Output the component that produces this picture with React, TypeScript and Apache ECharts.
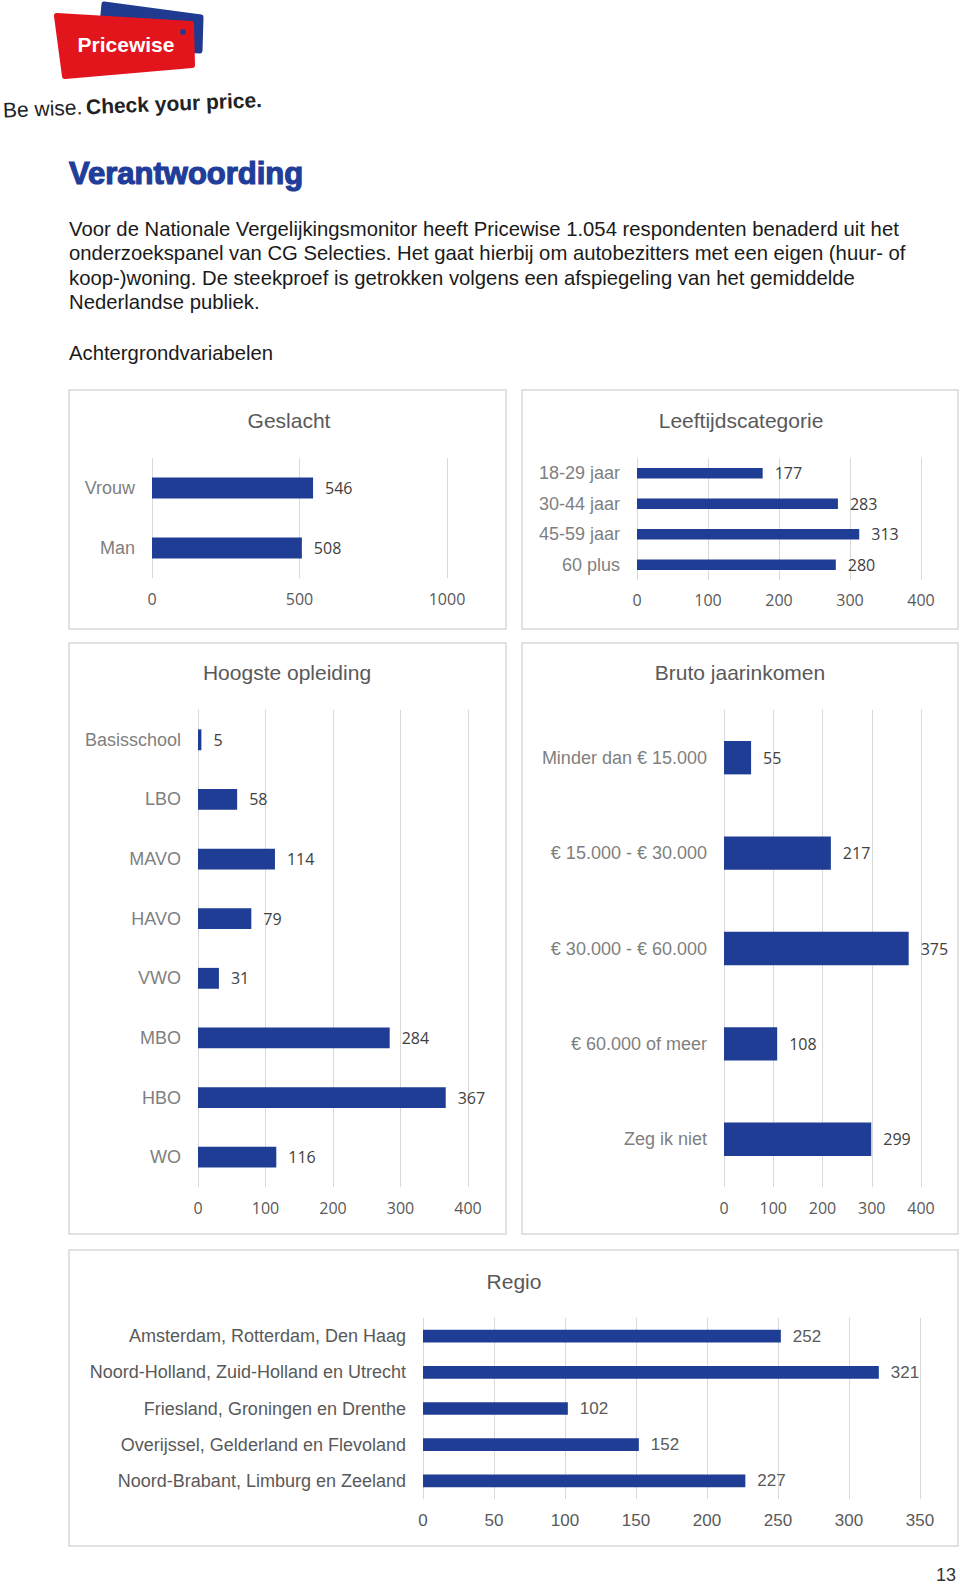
import React, { useEffect, useRef } from 'react';
import * as echarts from 'echarts';

// ---- Data ----
const genderCategories = ['Vrouw', 'Man'];
const genderValues = [546, 508];

const ageCategories = ['18-29 jaar', '30-44 jaar', '45-59 jaar', '60 plus'];
const ageValues = [177, 283, 313, 280];

const educationCategories = ['Basisschool', 'LBO', 'MAVO', 'HAVO', 'VWO', 'MBO', 'HBO', 'WO'];
const educationValues = [5, 58, 114, 79, 31, 284, 367, 116];

const incomeCategories = ['Minder dan € 15.000', '€ 15.000 - € 30.000', '€ 30.000 - € 60.000', '€ 60.000 of meer', 'Zeg ik niet'];
const incomeValues = [55, 217, 375, 108, 299];

const regionCategories = [
  'Amsterdam, Rotterdam, Den Haag',
  'Noord-Holland, Zuid-Holland en Utrecht',
  'Friesland, Groningen en Drenthe',
  'Overijssel, Gelderland en Flevoland',
  'Noord-Brabant, Limburg en Zeeland',
];
const regionValues = [252, 321, 102, 152, 227];

const bodyLines = [
  'Voor de Nationale Vergelijkingsmonitor heeft Pricewise 1.054 respondenten benaderd uit het',
  'onderzoekspanel van CG Selecties. Het gaat hierbij om autobezitters met een eigen (huur- of',
  'koop-)woning. De steekproef is getrokken volgens een afspiegeling van het gemiddelde',
  'Nederlandse publiek.',
];

// ---- Styling ----
const BAR = '#1f3d94';
const GRID = '#d9d9d9';
const SANS = '"Liberation Sans", Arial, Helvetica, sans-serif';
const NUM = '"Open Sans", "Liberation Sans", sans-serif';

type Panel = {
  cats: string[];
  vals: number[];
  max: number;
  interval: number;
  grid: { left: number; top: number; width: number; height: number };
  tickMargin: number;
  regio?: boolean;
};

const panels: Panel[] = [
  { cats: genderCategories, vals: genderValues, max: 1000, interval: 500, grid: { left: 152, top: 458, width: 295, height: 120 }, tickMargin: 13 },
  { cats: ageCategories, vals: ageValues, max: 400, interval: 100, grid: { left: 637, top: 458, width: 284, height: 122 }, tickMargin: 12 },
  { cats: educationCategories, vals: educationValues, max: 400, interval: 100, grid: { left: 198, top: 710, width: 270, height: 477 }, tickMargin: 13 },
  { cats: incomeCategories, vals: incomeValues, max: 400, interval: 100, grid: { left: 724, top: 710, width: 197, height: 477 }, tickMargin: 13 },
  { cats: regionCategories, vals: regionValues, max: 350, interval: 50, grid: { left: 423, top: 1318, width: 497, height: 181 }, tickMargin: 13, regio: true },
];

function buildOption() {
  const grids = panels.map((p) => ({ ...p.grid, containLabel: false }));
  const xAxes = panels.map((p, i) => ({
    gridIndex: i,
    type: 'value',
    min: 0,
    max: p.max,
    interval: p.interval,
    axisLine: { show: false },
    axisTick: { show: false },
    splitLine: { show: true, lineStyle: { color: GRID, width: 1 } },
    axisLabel: {
      margin: p.tickMargin,
      color: '#595959',
      fontFamily: p.regio ? SANS : NUM,
      fontSize: p.regio ? 17 : 16,
      formatter: (v: number) => String(v),
    },
  }));
  const yAxes = panels.map((p, i) => ({
    gridIndex: i,
    type: 'category',
    data: p.cats,
    inverse: true,
    axisLine: { show: false },
    axisTick: { show: false },
    splitLine: { show: false },
    axisLabel: {
      interval: 0,
      margin: 17,
      color: p.regio ? '#595959' : '#7f7f7f',
      fontFamily: SANS,
      fontSize: 18,
    },
  }));
  const series = panels.map((p, i) => ({
    type: 'bar',
    xAxisIndex: i,
    yAxisIndex: i,
    data: p.vals,
    barWidth: '35%',
    itemStyle: { color: BAR },
    label: {
      show: true,
      position: 'right',
      distance: 12,
      color: p.regio ? '#595959' : '#404040',
      fontFamily: p.regio ? SANS : NUM,
      fontSize: p.regio ? 17 : 16,
    },
  }));

  const panelRect = (x: number, y: number, w: number, h: number) => ({
    type: 'rect',
    shape: { x, y, width: w, height: h },
    style: { fill: 'none', stroke: GRID, lineWidth: 1.5 },
    silent: true,
  });
  const title = (text: string, x: number, y: number) => ({
    type: 'text',
    x,
    y,
    style: { text, fill: '#595959', font: `21px ${SANS}`, textAlign: 'center', textVerticalAlign: 'middle' },
  });

  const graphic: any[] = [
    // logo
    {
      type: 'polygon',
      shape: { points: [[104, 4], [201, 17], [200, 51], [100, 46]] },
      style: { fill: '#1f3a8f', stroke: '#1f3a8f', lineWidth: 5, lineJoin: 'round' },
    },
    {
      type: 'polygon',
      shape: { points: [[57, 16], [191, 24], [192, 65], [65, 76]] },
      style: { fill: '#e2141c', stroke: '#e2141c', lineWidth: 6, lineJoin: 'round' },
    },
    { type: 'circle', shape: { cx: 183, cy: 32, r: 3 }, style: { fill: '#1f3a8f' } },
    {
      type: 'text',
      x: 126,
      y: 44,
      style: { text: 'Pricewise', fill: '#ffffff', font: `bold 21px ${SANS}`, textAlign: 'center', textVerticalAlign: 'middle' },
    },
    {
      type: 'group',
      x: 3,
      y: 110,
      rotation: 0.04,
      children: [
        { type: 'text', x: 0, y: 0, style: { text: 'Be wise.', fill: '#222', font: `21px ${SANS}`, textAlign: 'left', textVerticalAlign: 'middle' } },
        { type: 'text', x: 83, y: 0, style: { text: 'Check your price.', fill: '#222', font: `bold 21px ${SANS}`, textAlign: 'left', textVerticalAlign: 'middle' } },
      ],
    },
    // heading
    {
      type: 'text',
      x: 69,
      y: 173,
      style: {
        text: 'Verantwoording',
        fill: '#1f3d99',
        stroke: '#1f3d99',
        lineWidth: 1.2,
        font: `bold 31px ${SANS}`,
        textAlign: 'left',
        textVerticalAlign: 'middle',
      },
    },
    ...bodyLines.map((t, i) => ({
      type: 'text',
      x: 69,
      y: 229 + i * 24.3,
      style: { text: t, fill: '#1a1a1a', font: `20.3px ${SANS}`, textAlign: 'left', textVerticalAlign: 'middle' },
    })),
    {
      type: 'text',
      x: 69,
      y: 353,
      style: { text: 'Achtergrondvariabelen', fill: '#1a1a1a', font: `20.3px ${SANS}`, textAlign: 'left', textVerticalAlign: 'middle' },
    },
    // panels
    panelRect(69, 390, 437, 239),
    panelRect(522, 390, 436, 239),
    panelRect(69, 643, 437, 591),
    panelRect(522, 643, 436, 591),
    panelRect(69, 1250, 889, 296),
    title('Geslacht', 289, 420),
    title('Leeftijdscategorie', 741, 420),
    title('Hoogste opleiding', 287, 672),
    title('Bruto jaarinkomen', 740, 672),
    title('Regio', 514, 1281),
    // page number
    {
      type: 'text',
      x: 946,
      y: 1575,
      style: { text: '13', fill: '#333', font: `18px ${SANS}`, textAlign: 'center', textVerticalAlign: 'middle' },
    },
  ];

  return {
    animation: false,
    backgroundColor: '#ffffff',
    grid: grids,
    xAxis: xAxes,
    yAxis: yAxes,
    series,
    graphic,
  };
}

export default function App() {
  const ref = useRef<HTMLDivElement>(null);
  useEffect(() => {
    if (!ref.current) return;
    const chart = echarts.init(ref.current, null, { renderer: 'svg' });
    chart.setOption(buildOption() as any);
    return () => chart.dispose();
  }, []);
  return (
    <div
      ref={ref}
      style={{ position: 'absolute', left: 0, top: 0, width: 960, height: 1587, background: '#fff' }}
    />
  );
}
